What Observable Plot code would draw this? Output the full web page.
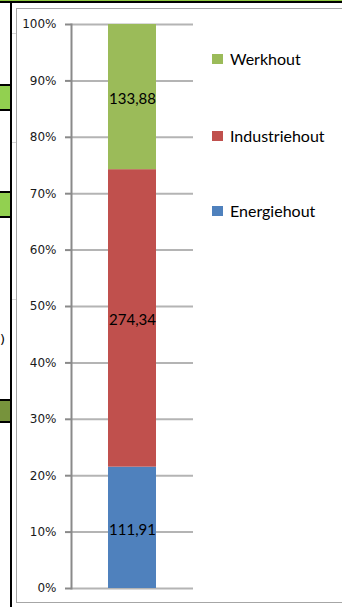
<!DOCTYPE html>
<html>
<head>
<meta charset="utf-8">
<script src="https://cdn.jsdelivr.net/npm/d3@7"></script>
<script src="https://cdn.jsdelivr.net/npm/@observablehq/plot@0.6"></script>
<style>
  html, body { margin: 0; padding: 0; background: #fff; }
  #sheet { position: relative; width: 342px; height: 607px; overflow: hidden; background: #fff; }
  .abs { position: absolute; }
  #chart { position: absolute; left: 0; top: 0; }
  .cell { position: absolute; left: 0; width: 10px; border-top: 2px solid #000; border-bottom: 2px solid #000; }
  .gridmark { position: absolute; left: 12px; width: 4px; height: 1px; background: #d6d6d6; }
  .legend-item { position: absolute; left: 212px; display: flex; align-items: center; font-family: Lato, sans-serif; font-size: 16px; color: #000; }
  .legend-swatch { width: 11px; height: 10px; margin-right: 7px; }
</style>
</head>
<body>
<div id="sheet">
  <!-- worksheet edges around the embedded chart -->
  <div class="abs" style="left:0;top:0;width:342px;height:1px;background:#8cc63f;"></div>
  <div class="abs" style="left:0;top:1px;width:342px;height:2px;background:#000;"></div>
  <div class="cell" style="top:84px;height:23px;background:#92d050;"></div>
  <div class="cell" style="top:191px;height:23px;background:#92d050;"></div>
  <div class="cell" style="top:399px;height:20px;background:#77933c;"></div>
  <div class="abs" style="left:0;top:332px;font-family:'DejaVu Sans',sans-serif;font-size:13px;line-height:16px;color:#000;">)</div>
  <div class="abs" style="left:10px;top:3px;width:2px;height:604px;background:#000;"></div>
  <div class="gridmark" style="top:33px;"></div>
  <div class="gridmark" style="top:142px;"></div>
  <div class="gridmark" style="top:299px;"></div>
  <!-- chart area border -->
  <div class="abs" style="left:16px;top:8px;width:400px;height:595px;border:1px solid #a6a6a6;box-sizing:border-box;"></div>
  <div id="chart"></div>
  <div id="legend"></div>
</div>
<script>
// Wood use, split by type (shares of the total)
const categories = ["Hout"];
const series = ["Energiehout", "Industriehout", "Werkhout"];
const values = [111.91, 274.34, 133.88];
const colors = ["#4f81bd", "#c0504d", "#9bbb59"];
const yTicks = [0, 0.1, 0.2, 0.3, 0.4, 0.5, 0.6, 0.7, 0.8, 0.9, 1];

const data = series.map((s, i) => ({groep: categories[0], soort: s, waarde: values[i]}));
const nl = d3.formatLocale({decimal: ",", thousands: ".", grouping: [3], currency: ["€", ""]});
const fmtValue = nl.format(".2f");
const fmtPct = d3.format(".0%");

const chart = Plot.plot({
  width: 342,
  height: 607,
  marginLeft: 71,
  marginRight: 149,
  marginTop: 24,
  marginBottom: 19,
  style: {fontFamily: "'DejaVu Sans', sans-serif", fontSize: "12px", color: "#1a1a1a", background: "transparent", overflow: "visible"},
  x: {domain: categories, paddingInner: 0, paddingOuter: 0.75, axis: null},
  y: {domain: [0, 1], label: null},
  color: {domain: series, range: colors},
  marks: [
    Plot.gridY(yTicks, {stroke: "#b4b4b4", strokeOpacity: 1, strokeWidth: 2}),
    Plot.barY(data, Plot.stackY({x: "groep", y: "waarde", fill: "soort", offset: "normalize"})),
    Plot.axisY(yTicks, {
      tickSize: 6, tickPadding: 9, stroke: "#8a8a8a", strokeWidth: 2,
      tickFormat: fmtPct, label: null,
      fontFamily: "'DejaVu Sans', sans-serif", fontSize: 12, fill: "#1a1a1a"
    }),
    Plot.frame({anchor: "left", stroke: "#8a8a8a", strokeWidth: 2}),
    Plot.text(data, Plot.stackY({
      x: "groep", y: "waarde", offset: "normalize",
      text: d => fmtValue(d.waarde),
      fontFamily: "Lato, sans-serif", fontSize: 15, fill: "#000", dy: 2
    }))
  ]
});
document.getElementById("chart").append(chart);

// Legend on the right, top to bottom in reverse stacking order
const legendTops = {Werkhout: 49, Industriehout: 126, Energiehout: 201};
const legend = document.getElementById("legend");
[...series].reverse().forEach(s => {
  const item = document.createElement("div");
  item.className = "legend-item";
  item.style.top = legendTops[s] + "px";
  const sw = document.createElement("span");
  sw.className = "legend-swatch";
  sw.style.background = colors[series.indexOf(s)];
  const label = document.createElement("span");
  label.textContent = s;
  item.append(sw, label);
  legend.append(item);
});
</script>
</body>
</html>
